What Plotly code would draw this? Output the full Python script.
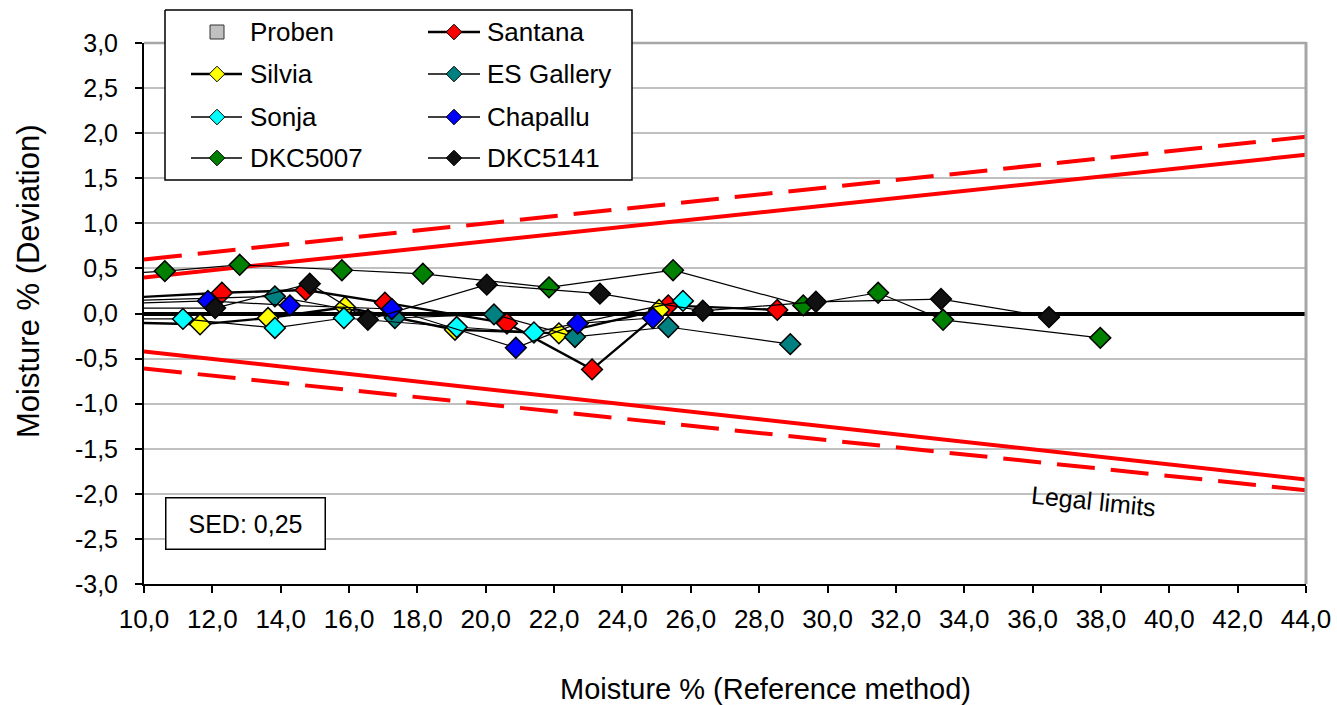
import plotly.graph_objects as go

# ---------------- data ----------------
series_names = ["Proben", "Santana", "Silvia", "ES Gallery", "Sonja", "Chapallu", "DKC5007", "DKC5141"]

proben_x = []
proben_y = []

santana_x = [9.3, 12.28, 14.73, 17.05, 20.62, 23.11, 25.34, 28.53]
santana_y = [0.17, 0.23, 0.26, 0.12, -0.11, -0.62, 0.09, 0.04]

silvia_x = [9.3, 11.64, 13.63, 15.88, 19.10, 22.14, 25.07]
silvia_y = [-0.10, -0.12, -0.05, 0.07, -0.18, -0.22, 0.04]

esgallery_x = [9.3, 13.83, 17.34, 20.24, 22.61, 25.34, 28.91]
esgallery_y = [0.14, 0.19, -0.05, -0.01, -0.26, -0.15, -0.34]

sonja_x = [9.3, 11.14, 13.83, 15.85, 19.15, 21.41, 25.77]
sonja_y = [-0.06, -0.06, -0.16, -0.05, -0.15, -0.21, 0.14]

chapallu_x = [9.3, 11.87, 14.27, 17.25, 20.88, 22.69, 24.89]
chapallu_y = [0.11, 0.14, 0.09, 0.05, -0.38, -0.11, -0.05]

dkc5007_x = [9.3, 10.61, 12.80, 15.79, 18.16, 21.85, 25.48, 29.29, 31.48, 33.38, 37.98]
dkc5007_y = [0.44, 0.47, 0.54, 0.48, 0.44, 0.29, 0.48, 0.09, 0.23, -0.07, -0.27]

dkc5141_x = [9.3, 12.08, 14.85, 16.55, 20.03, 23.34, 26.35, 29.66, 33.32, 36.48]
dkc5141_y = [0.06, 0.06, 0.33, -0.07, 0.32, 0.22, 0.03, 0.13, 0.16, -0.04]

limit_x = [10.0, 44.0]
upper_limit = [0.40, 1.76]
upper_limit_ext = [0.60, 1.96]
lower_limit = [-0.42, -1.84]
lower_limit_ext = [-0.61, -1.96]

x_ticks = [10, 12, 14, 16, 18, 20, 22, 24, 26, 28, 30, 32, 34, 36, 38, 40, 42, 44]
x_ticktext = ["10,0", "12,0", "14,0", "16,0", "18,0", "20,0", "22,0", "24,0", "26,0",
              "28,0", "30,0", "32,0", "34,0", "36,0", "38,0", "40,0", "42,0", "44,0"]
y_ticks = [-3.0, -2.5, -2.0, -1.5, -1.0, -0.5, 0.0, 0.5, 1.0, 1.5, 2.0, 2.5, 3.0]
y_ticktext = ["-3,0", "-2,5", "-2,0", "-1,5", "-1,0", "-0,5", "0,0", "0,5", "1,0",
              "1,5", "2,0", "2,5", "3,0"]

sed_text = "SED: 0,25"
limits_text = "Legal limits"

# ---------------- styling ----------------
W, H = 1337, 705
PL, PR, PT, PB = 144, 1306, 43, 584   # plot area in pixels
FONT = "Arial, Liberation Sans, sans-serif"

colors = {
    "Proben": "#c0c0c0", "Santana": "#ff0000", "Silvia": "#ffff00",
    "ES Gallery": "#008080", "Sonja": "#00ffff", "Chapallu": "#0000ff",
    "DKC5007": "#008000", "DKC5141": "#111111",
}
line_w = {"Santana": 2.4, "Silvia": 2.4}

data = {
    "Proben": (proben_x, proben_y),
    "Santana": (santana_x, santana_y),
    "Silvia": (silvia_x, silvia_y),
    "ES Gallery": (esgallery_x, esgallery_y),
    "Sonja": (sonja_x, sonja_y),
    "Chapallu": (chapallu_x, chapallu_y),
    "DKC5007": (dkc5007_x, dkc5007_y),
    "DKC5141": (dkc5141_x, dkc5141_y),
}

fig = go.Figure()

# legal limit lines
for yy, dash in [(upper_limit, "solid"), (upper_limit_ext, "38px,16px"),
                 (lower_limit, "solid"), (lower_limit_ext, "38px,16px")]:
    fig.add_trace(go.Scatter(x=limit_x, y=yy, mode="lines",
                             line=dict(color="#ff0000", width=4, dash=dash),
                             showlegend=False, hoverinfo="skip"))

# data series
for name in series_names:
    xs, ys = data[name]
    if name == "Proben":
        fig.add_trace(go.Scatter(x=xs, y=ys, mode="markers", name=name,
                                 marker=dict(symbol="square", size=11, color=colors[name],
                                             line=dict(color="#000", width=1)),
                                 showlegend=False))
        continue
    fig.add_trace(go.Scatter(
        x=xs, y=ys, mode="lines+markers", name=name, showlegend=False,
        line=dict(color="#000000", width=line_w.get(name, 1.2)),
        marker=dict(symbol="diamond", size=16, color=colors[name],
                    line=dict(color="#000000", width=1.5)),
    ))

# ---------- manual legend on a pixel-coordinate overlay axis ----------
lx0, lx1, ly0, ly1 = 165, 632, 10, 180
fig.add_trace(go.Scatter(x=[lx0, lx1, lx1, lx0, lx0], y=[ly0, ly0, ly1, ly1, ly0],
                         mode="lines", fill="toself", fillcolor="white",
                         line=dict(color="black", width=1.5),
                         xaxis="x2", yaxis="y2", showlegend=False, hoverinfo="skip"))
row_y = [32, 74, 117, 158]
col_line = [(191, 242, 217, 248), (428, 480, 454, 485)]
annotations = []
for i, name in enumerate(series_names):
    r, c = divmod(i, 2)
    xa, xb, xm, xt = col_line[c]
    yv = row_y[r]
    if name == "Proben":
        fig.add_trace(go.Scatter(x=[xm], y=[yv], mode="markers",
                                 marker=dict(symbol="square", size=14, color=colors[name],
                                             line=dict(color="#333", width=1)),
                                 xaxis="x2", yaxis="y2", showlegend=False, hoverinfo="skip"))
    else:
        fig.add_trace(go.Scatter(x=[xa, xb], y=[yv, yv], mode="lines",
                                 line=dict(color="black", width=line_w.get(name, 1.3)),
                                 xaxis="x2", yaxis="y2", showlegend=False, hoverinfo="skip"))
        fig.add_trace(go.Scatter(x=[xm], y=[yv], mode="markers",
                                 marker=dict(symbol="diamond", size=12, color=colors[name],
                                             line=dict(color="#000", width=1)),
                                 xaxis="x2", yaxis="y2", showlegend=False, hoverinfo="skip"))
    annotations.append(dict(x=xt, y=yv, xref="x2", yref="y2", text=name, showarrow=False,
                            xanchor="left", yanchor="middle",
                            font=dict(family=FONT, size=26, color="#000")))

# SED box
annotations.append(dict(x=(165 + 326) / 2, y=(497 + 550) / 2, xref="x2", yref="y2",
                        text=sed_text, showarrow=False, xanchor="center", yanchor="middle",
                        width=158, height=50, borderpad=0, bordercolor="black",
                        borderwidth=1.5, bgcolor="white",
                        font=dict(family=FONT, size=25, color="#000")))
# Legal limits label
annotations.append(dict(x=1093, y=501, xref="x2", yref="y2", text=limits_text,
                        showarrow=False, textangle=6,
                        font=dict(family=FONT, size=25, color="#000")))
# axis titles
annotations.append(dict(x=765, y=689, xref="x2", yref="y2", text="Moisture % (Reference method)",
                        showarrow=False, font=dict(family=FONT, size=29, color="#000")))
annotations.append(dict(x=28, y=281, xref="x2", yref="y2", text="Moisture % (Deviation)",
                        showarrow=False, textangle=-90,
                        font=dict(family=FONT, size=31, color="#000")))

shapes = [
    dict(type="line", xref="x2", yref="y2", x0=PL, x1=PR, y0=PT, y1=PT,
         line=dict(color="#a6a6a6", width=2.5), layer="below"),
    dict(type="line", xref="x2", yref="y2", x0=PR, x1=PR, y0=PT - 1, y1=PB,
         line=dict(color="#a6a6a6", width=3), layer="below"),
]

fig.update_layout(
    width=W, height=H,
    margin=dict(l=0, r=0, t=0, b=0),
    paper_bgcolor="white", plot_bgcolor="rgba(0,0,0,0)",
    font=dict(family=FONT, size=25, color="#000"),
    showlegend=False,
    xaxis=dict(domain=[PL / W, PR / W], range=[10, 44], anchor="y",
               tickvals=x_ticks, ticktext=x_ticktext, ticks="outside", ticklen=7,
               tickwidth=1.5, tickcolor="black", showline=True, linecolor="black",
               linewidth=2, showgrid=False, zeroline=False, automargin=False,
               ticklabelstandoff=4, tickfont=dict(size=26)),
    yaxis=dict(domain=[1 - PB / H, 1 - PT / H], range=[-3, 3], anchor="x",
               tickvals=y_ticks, ticktext=y_ticktext, ticks="outside", ticklen=7,
               tickwidth=1.5, tickcolor="black", showline=True, linecolor="black",
               linewidth=2, showgrid=True, gridcolor="#c0c0c0", gridwidth=1.5,
               zeroline=True, zerolinecolor="black", zerolinewidth=3.5,
               automargin=False, ticklabelstandoff=12, tickfont=dict(size=25)),
    xaxis2=dict(domain=[0, 1], range=[0, W], anchor="y2", visible=False, fixedrange=True),
    yaxis2=dict(domain=[0, 1], range=[H, 0], anchor="x2", visible=False, fixedrange=True),
    annotations=annotations,
    shapes=shapes,
)

fig.write_html("out.html")
